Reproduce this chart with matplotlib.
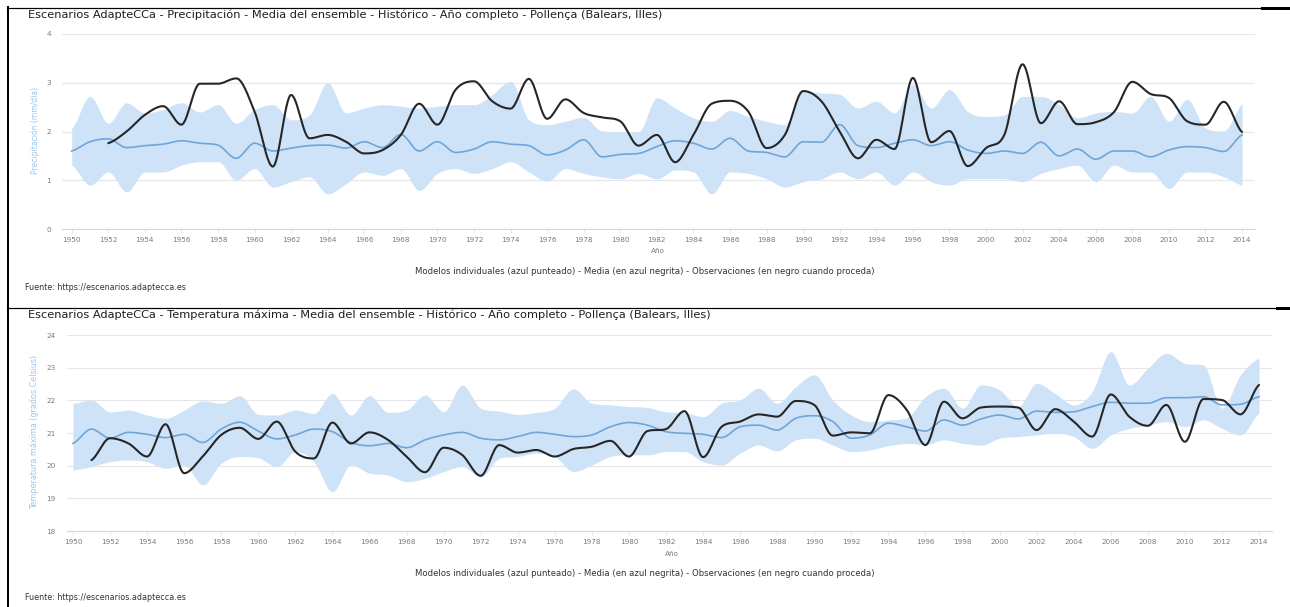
import numpy as np
import matplotlib
matplotlib.use("Agg")
import matplotlib.pyplot as plt
from matplotlib.lines import Line2D

# ---------------- data ----------------
years = list(range(1950, 2015))

# Precipitation (mm/día)
pr_obs_years = list(range(1952, 2015))
pr_obs = [1.76, 2.00, 2.34, 2.52, 2.14, 2.98, 2.98, 3.09, 2.41, 1.28,
          2.75, 1.86, 1.93, 1.79, 1.55, 1.62, 1.93, 2.57, 2.14, 2.86,
          3.03, 2.62, 2.47, 3.08, 2.26, 2.66, 2.38, 2.29, 2.21, 1.71,
          1.93, 1.37, 1.93, 2.57, 2.63, 2.41, 1.66, 1.93, 2.83, 2.62,
          2.00, 1.45, 1.83, 1.64, 3.10, 1.78, 2.01, 1.29, 1.66, 1.93,
          3.38, 2.17, 2.62, 2.15, 2.19, 2.40, 3.02, 2.77, 2.69, 2.21,
          2.14, 2.61, 1.99]
pr_mean = [1.60, 1.79, 1.85, 1.67, 1.71, 1.74, 1.81, 1.76, 1.72, 1.45,
           1.76, 1.60, 1.66, 1.71, 1.72, 1.66, 1.79, 1.67, 1.94, 1.60,
           1.79, 1.57, 1.64, 1.79, 1.74, 1.71, 1.52, 1.62, 1.83, 1.48,
           1.53, 1.55, 1.69, 1.81, 1.76, 1.64, 1.86, 1.60, 1.57, 1.48,
           1.79, 1.78, 2.14, 1.71, 1.67, 1.76, 1.83, 1.71, 1.79, 1.62,
           1.55, 1.60, 1.55, 1.78, 1.50, 1.64, 1.43, 1.60, 1.60, 1.48,
           1.62, 1.69, 1.67, 1.59, 1.93]
pr_upper = [2.07, 2.72, 2.17, 2.59, 2.38, 2.45, 2.59, 2.40, 2.55, 2.17,
            2.45, 2.55, 2.24, 2.34, 3.00, 2.38, 2.48, 2.55, 2.52, 2.48,
            2.52, 2.55, 2.55, 2.76, 3.03, 2.24, 2.14, 2.21, 2.29, 2.01,
            2.00, 2.00, 2.69, 2.48, 2.28, 2.21, 2.43, 2.31, 2.21, 2.14,
            2.83, 2.79, 2.76, 2.48, 2.62, 2.38, 2.97, 2.48, 2.86, 2.41,
            2.31, 2.34, 2.72, 2.72, 2.55, 2.28, 2.38, 2.41, 2.38, 2.72,
            2.21, 2.66, 2.07, 2.01, 2.57]
pr_lower = [1.31, 0.90, 1.17, 0.76, 1.17, 1.17, 1.31, 1.38, 1.38, 1.00,
            1.24, 0.86, 0.97, 1.07, 0.72, 0.93, 1.17, 1.10, 1.24, 0.79,
            1.14, 1.24, 1.14, 1.24, 1.38, 1.17, 0.98, 1.24, 1.14, 1.07,
            1.03, 1.14, 1.03, 1.21, 1.17, 0.72, 1.17, 1.14, 1.03, 0.86,
            0.97, 1.03, 1.17, 1.03, 1.17, 0.90, 1.17, 0.97, 0.90, 1.03,
            1.03, 1.03, 0.97, 1.14, 1.24, 1.31, 0.97, 1.31, 1.17, 1.17,
            0.83, 1.17, 1.17, 1.07, 0.90]

# Maximum temperature (grados Celsius)
tx_obs_years = list(range(1951, 2015))
tx_obs = [20.17, 20.84, 20.68, 20.28, 21.27, 19.77, 20.28, 20.94, 21.16, 20.82,
          21.35, 20.43, 20.22, 21.32, 20.68, 21.02, 20.79, 20.28, 19.80, 20.55,
          20.33, 19.69, 20.63, 20.40, 20.48, 20.28, 20.51, 20.58, 20.76, 20.28,
          21.06, 21.12, 21.67, 20.26, 21.19, 21.35, 21.57, 21.50, 21.98, 21.86,
          20.92, 21.02, 20.99, 22.16, 21.70, 20.63, 21.96, 21.45, 21.78, 21.81,
          21.78, 21.09, 21.73, 21.35, 20.89, 22.18, 21.50, 21.22, 21.86, 20.73,
          22.04, 22.01, 21.57, 22.47]
tx_mean = [20.68, 21.12, 20.84, 21.02, 20.96, 20.86, 20.96, 20.71, 21.12, 21.33,
           21.06, 20.82, 20.94, 21.12, 21.04, 20.71, 20.61, 20.68, 20.55, 20.79,
           20.94, 21.02, 20.84, 20.79, 20.89, 21.02, 20.96, 20.89, 20.94, 21.19,
           21.32, 21.24, 21.04, 20.99, 20.96, 20.86, 21.19, 21.24, 21.09, 21.45,
           21.53, 21.35, 20.84, 20.94, 21.30, 21.19, 21.06, 21.40, 21.24, 21.43,
           21.55, 21.43, 21.67, 21.63, 21.65, 21.81, 21.94, 21.91, 21.91, 22.08,
           22.08, 22.11, 21.86, 21.88, 22.11]
tx_upper = [21.91, 22.01, 21.65, 21.70, 21.55, 21.45, 21.70, 21.98, 21.91, 22.14,
            21.57, 21.55, 21.70, 21.60, 22.21, 21.55, 22.14, 21.63, 21.70, 22.16,
            21.65, 22.47, 21.76, 21.67, 21.57, 21.63, 21.76, 22.35, 21.91, 21.86,
            21.81, 21.78, 21.65, 21.63, 21.50, 21.91, 22.01, 22.37, 21.91, 22.42,
            22.78, 22.01, 21.55, 21.35, 21.40, 21.47, 22.11, 22.37, 21.76, 22.47,
            22.32, 21.81, 22.52, 22.21, 21.86, 22.27, 23.49, 22.47, 22.98, 23.44,
            23.13, 23.08, 21.76, 22.78, 23.29]
tx_lower = [19.87, 19.97, 20.12, 20.17, 20.12, 19.92, 20.02, 19.41, 20.07, 20.28,
            20.24, 19.97, 20.43, 20.12, 19.20, 20.02, 19.77, 19.71, 19.51, 19.61,
            19.82, 19.97, 19.66, 20.22, 20.28, 20.38, 20.28, 19.82, 20.02, 20.28,
            20.33, 20.33, 20.43, 20.43, 20.12, 20.02, 20.38, 20.63, 20.45, 20.79,
            20.84, 20.63, 20.43, 20.48, 20.61, 20.68, 20.65, 20.79, 20.68, 20.63,
            20.84, 20.89, 20.94, 20.99, 20.89, 20.53, 20.94, 21.14, 21.24, 21.35,
            21.19, 21.40, 21.14, 20.94, 21.60]

x_ticks = list(range(1950, 2015, 2))
pr_yticks = [0, 1, 2, 3, 4]
tx_yticks = [18, 19, 20, 21, 22, 23, 24]

title_pr = ("Escenarios AdapteCCa - Precipitación - Media del ensemble - Histórico - "
            "Año completo - Pollença (Balears, Illes)")
title_tx = ("Escenarios AdapteCCa - Temperatura máxima - Media del ensemble - Histórico - "
            "Año completo - Pollença (Balears, Illes)")
ylabel_pr = "Precipitación (mm/día)"
ylabel_tx = "Temperatura máxima (grados Celsius)"
xlabel = "Año"
caption = ("Modelos individuales (azul punteado) - Media (en azul negrita) - "
           "Observaciones (en negro cuando proceda)")
source = "Fuente: https://escenarios.adaptecca.es"

# ---------------- helpers ----------------
W, H = 1290, 607


def spline(x, y, n=16):
    """Smooth curve through points (Highcharts-like spline: flat at extrema)."""
    x = np.asarray(x, float)
    y = np.asarray(y, float)
    k = len(x)
    d = np.diff(y) / np.diff(x)
    m = np.zeros(k)
    for i in range(1, k - 1):
        if d[i - 1] * d[i] > 0:
            mi = (y[i + 1] - y[i - 1]) / (x[i + 1] - x[i - 1])
            lim = 3 * min(abs(d[i - 1]), abs(d[i]))
            m[i] = np.sign(mi) * min(abs(mi), lim)
    m[0] = d[0] * 0.5
    m[-1] = d[-1] * 0.5
    xs, ys = [], []
    for i in range(k - 1):
        h = x[i + 1] - x[i]
        t = np.linspace(0, 1, n, endpoint=False)
        h00 = 2 * t**3 - 3 * t**2 + 1
        h10 = t**3 - 2 * t**2 + t
        h01 = -2 * t**3 + 3 * t**2
        h11 = t**3 - t**2
        xs.append(x[i] + t * h)
        ys.append(h00 * y[i] + h10 * h * m[i] + h01 * y[i + 1] + h11 * h * m[i + 1])
    xs.append([x[-1]])
    ys.append([y[-1]])
    return np.concatenate(xs), np.concatenate(ys)


def fx(px):
    return px / W


def fy(py):
    return 1 - py / H


def make_axes(x0, x1, ytop, ybot):
    return fig.add_axes([fx(x0), fy(ybot), fx(x1) - fx(x0), (ybot - ytop) / H])


BAND = "#cfe3f8"
MEAN = "#6fa5d8"
OBS = "#262626"
GRID = "#e6e6e6"
TICK = "#7a7a7a"
YLAB = "#9cc6ee"

fig = plt.figure(figsize=(W / 100, H / 100), dpi=100)
fig.patch.set_facecolor("white")


def draw_panel(ax, ymin, ymax, yticks, xlim, obs_years, obs, mean, upper, lower):
    xu, yu = spline(years, upper)
    xl, yl = spline(years, lower)
    ax.fill_between(xu, yu, yl, color=BAND, lw=0, zorder=2)
    xm, ym = spline(years, mean)
    ax.plot(xm, ym, color=MEAN, lw=1.2, zorder=3)
    xo, yo = spline(obs_years, obs)
    ax.plot(xo, yo, color=OBS, lw=1.5, zorder=4, solid_capstyle="round")
    ax.set_xlim(*xlim)
    ax.set_ylim(ymin, ymax)
    ax.set_yticks(yticks)
    ax.set_yticklabels([str(v) for v in yticks])
    ax.set_xticks(x_ticks)
    ax.set_xticklabels([str(v) for v in x_ticks])
    for v in yticks[1:]:
        ax.axhline(v, color=GRID, lw=0.8, zorder=1)
    for s in ["top", "right", "left"]:
        ax.spines[s].set_visible(False)
    ax.spines["bottom"].set_color("#ccd6eb")
    ax.spines["bottom"].set_linewidth(0.8)
    ax.tick_params(axis="y", length=0, labelsize=5.2, labelcolor=TICK, pad=8)
    ax.tick_params(axis="x", length=3, width=0.6, color="#dde3ee",
                   labelsize=5.2, labelcolor=TICK, pad=3)
    ax.set_facecolor("white")


# top panel
ax1 = make_axes(62, 1255, 34, 229)
draw_panel(ax1, 0, 4, pr_yticks, (1949.47, 2014.71),
           pr_obs_years, pr_obs, pr_mean, pr_upper, pr_lower)
# bottom panel
ax2 = make_axes(67, 1272, 335, 531)
draw_panel(ax2, 18, 24, tx_yticks, (1949.68, 2014.70),
           tx_obs_years, tx_obs, tx_mean, tx_upper, tx_lower)

# texts
for (ty, title, yl_text, yl_center, yl_size, xlab_x, xlab_y, cap_y, src_y) in [
        (15, title_pr, ylabel_pr, 130, 5.5, 658, 251, 271, 288),
        (315, title_tx, ylabel_tx, 432, 5.8, 672, 554, 574, 597)]:
    fig.text(fx(28), fy(ty), title, fontsize=8.2, color="#1e1e1e",
             ha="left", va="center")
    fig.text(fx(35), fy(yl_center), yl_text, fontsize=yl_size, color=YLAB,
             rotation=90, ha="center", va="center")
    fig.text(fx(xlab_x), fy(xlab_y), xlabel, fontsize=5.2, color=TICK,
             ha="center", va="center")
    fig.text(fx(645), fy(cap_y), caption, fontsize=6.1, color="#333333",
             ha="center", va="center")
    fig.text(fx(25), fy(src_y), source, fontsize=5.8, color="#333333",
             ha="left", va="center")

# black frame lines of the composite screenshot
lw2 = 2 * 72 / 100
fig.add_artist(Line2D([fx(7.5), fx(7.5)], [fy(7), fy(607)], color="black", lw=lw2))
fig.add_artist(Line2D([fx(7), fx(1290)], [fy(7.5), fy(7.5)], color="black", lw=1.2 * 72 / 100))
fig.add_artist(Line2D([fx(1262), fx(1290)], [fy(8), fy(8)], color="black", lw=3 * 72 / 100))
fig.add_artist(Line2D([fx(7), fx(1290)], [fy(307.5), fy(307.5)], color="black", lw=1.2 * 72 / 100))
fig.add_artist(Line2D([fx(1277), fx(1290)], [fy(308), fy(308)], color="black", lw=3 * 72 / 100))

fig.savefig("out.png", dpi=100, facecolor="white")
